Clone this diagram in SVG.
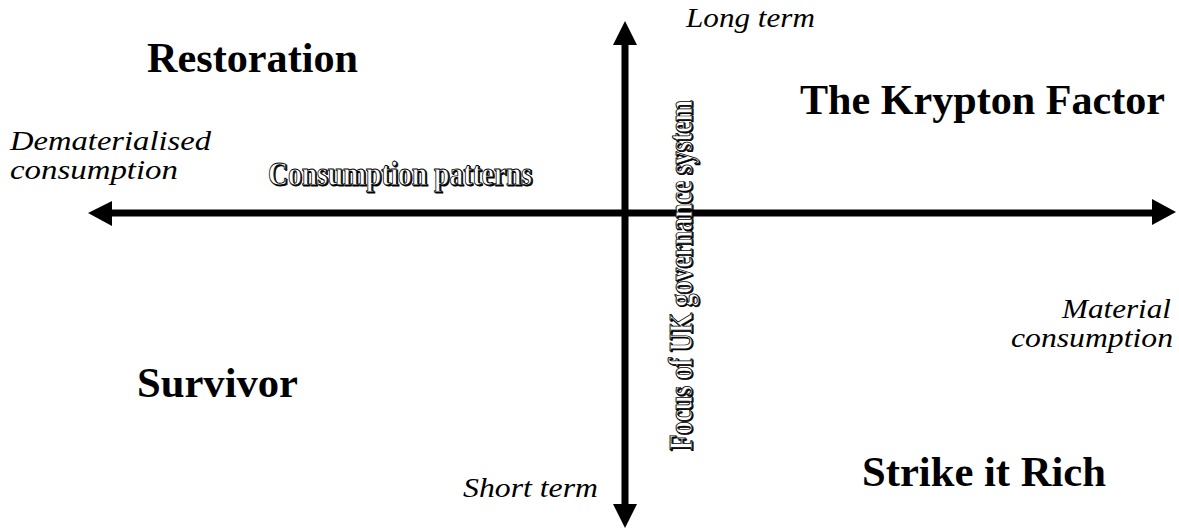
<svg xmlns="http://www.w3.org/2000/svg" width="1179" height="530" viewBox="0 0 1179 530">
<style>
text{font-family:'Liberation Serif','Times New Roman',Times,serif}
.title{font-weight:bold;font-size:42px;fill:#000}
.it{font-style:italic;font-size:27px;fill:#000}
.wa{font-weight:bold;font-size:33px}
.wash{fill:#000;stroke:#000;stroke-width:1}
.wamain{fill:#fff;stroke:#000;stroke-width:0.9}
.arrow{fill:#000}
</style>
<rect width="1179" height="530" fill="#fff"/>
<g id="connectors">
  <g id="vertical-axis" class="arrow">
    <rect x="621.5" y="44" width="7" height="461"/>
    <polygon points="625,21 613,45 637,45"/>
    <polygon points="625,528 613,504 637,504"/>
  </g>
  <g id="horizontal-axis" class="arrow">
    <rect x="111" y="209.5" width="1042" height="7"/>
    <polygon points="88,213 112,201 112,226"/>
    <polygon points="1176,212 1152,199 1152,225"/>
  </g>
</g>
<g id="node-restoration"><text class="title" x="147" y="72" textLength="211" lengthAdjust="spacingAndGlyphs">Restoration</text></g>
<g id="node-krypton"><text class="title" x="800" y="114" textLength="365" lengthAdjust="spacingAndGlyphs">The Krypton Factor</text></g>
<g id="node-survivor"><text class="title" x="137" y="397" textLength="161" lengthAdjust="spacingAndGlyphs">Survivor</text></g>
<g id="node-strike"><text class="title" x="862" y="486" textLength="244" lengthAdjust="spacingAndGlyphs">Strike it Rich</text></g>
<g id="label-long"><text class="it" x="686" y="27" textLength="129" lengthAdjust="spacingAndGlyphs">Long term</text></g>
<g id="label-short"><text class="it" x="463" y="497" textLength="135" lengthAdjust="spacingAndGlyphs">Short term</text></g>
<g id="label-demat">
  <text class="it" x="10" y="150" textLength="201" lengthAdjust="spacingAndGlyphs">Dematerialised</text>
  <text class="it" x="10" y="179" textLength="168" lengthAdjust="spacingAndGlyphs">consumption</text>
</g>
<g id="label-material">
  <text class="it" x="1062" y="318" textLength="109" lengthAdjust="spacingAndGlyphs">Material</text>
  <text class="it" x="1011" y="347" textLength="162" lengthAdjust="spacingAndGlyphs">consumption</text>
</g>
<g id="label-consumption-patterns" class="wa">
  <text class="wash" x="269.2" y="186.2" textLength="264" lengthAdjust="spacingAndGlyphs">Consumption patterns</text>
  <text class="wamain" x="268" y="185" textLength="264" lengthAdjust="spacingAndGlyphs">Consumption patterns</text>
</g>
<g id="label-governance" class="wa" transform="translate(692,450) rotate(-90)">
  <text class="wash" x="-1.2" y="1.2" textLength="350" lengthAdjust="spacingAndGlyphs">Focus of UK governance system</text>
  <text class="wamain" x="0" y="0" textLength="350" lengthAdjust="spacingAndGlyphs">Focus of UK governance system</text>
</g>
</svg>
